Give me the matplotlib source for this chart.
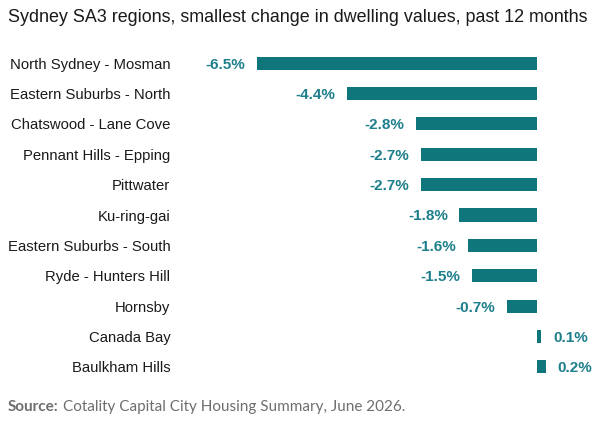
import matplotlib
matplotlib.use("Agg")
import matplotlib.pyplot as plt

regions = ["North Sydney - Mosman", "Eastern Suburbs - North", "Chatswood - Lane Cove",
           "Pennant Hills - Epping", "Pittwater", "Ku-ring-gai", "Eastern Suburbs - South",
           "Ryde - Hunters Hill", "Hornsby", "Canada Bay", "Baulkham Hills"]
change = [-6.5, -4.4, -2.8, -2.7, -2.7, -1.8, -1.6, -1.5, -0.7, 0.1, 0.2]

BAR = "#0f777b"
LAB = "#1e7f8c"
plt.rcParams["font.family"] = ["Liberation Sans", "DejaVu Sans"]

fig = plt.figure(figsize=(6.03, 4.22), dpi=100)
W, H = 603, 422
ax = fig.add_axes([180 / W, 1 - 382 / H, 410 / W, 334 / H])

y = list(range(len(regions)))
ax.barh(y, change, height=0.43, color=BAR)
for yi, v in zip(y, change):
    off = 0.27 if v > 0 else -0.27
    ax.text(v + off, yi, f"{v:.1f}%", ha="left" if v > 0 else "right",
            va="center_baseline", fontsize=11, fontweight="bold", color=LAB)

ax.set_xlim(-(537 - 180) / 43.1, (590 - 537) / 43.1)
ax.set_ylim(len(regions) - 0.5, -0.5)
ax.set_yticks(y)
ax.set_yticklabels(regions, fontsize=10.7, color="#1a1a1a")
ax.tick_params(axis="y", length=0, pad=7)
ax.set_xticks([])
for s in ax.spines.values():
    s.set_visible(False)

fig.text(8 / W, 1 - 18 / H, "Sydney SA3 regions, smallest change in dwelling values, past 12 months",
         fontsize=12.9, va="center", ha="left", color="#1a1a1a")
t = fig.text(8 / W, 1 - 407 / H, "Source:", fontsize=11, fontweight="bold",
             color="#6e6e6e", family="Lato", va="center", ha="left")
fig.canvas.draw()
bb = t.get_window_extent()
fig.text(bb.x1 / W + 4 / W, 1 - 407 / H, "Cotality Capital City Housing Summary, June 2026.",
         fontsize=11, color="#6e6e6e", family="Lato", va="center", ha="left")

fig.savefig("out.png", dpi=100)
